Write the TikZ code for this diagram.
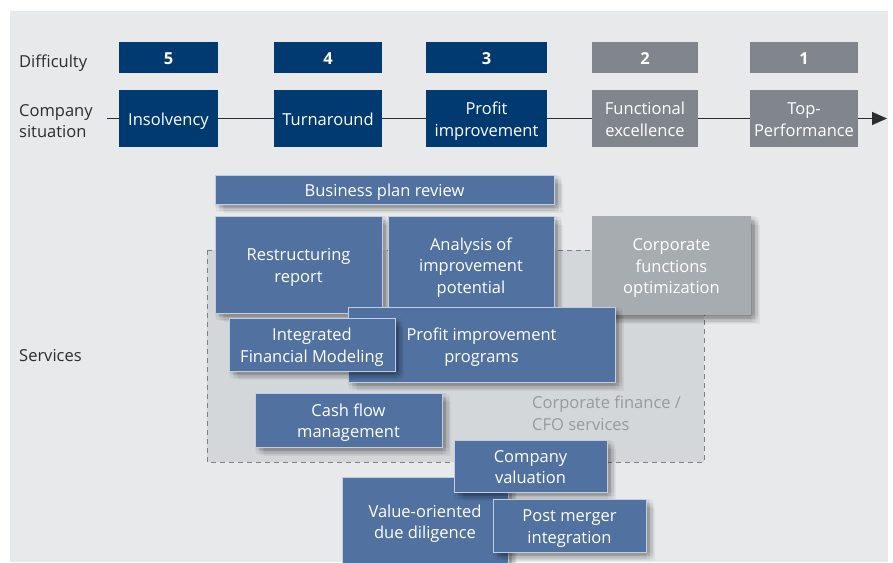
\documentclass[tikz,border=0pt]{standalone}
\usepackage{fontspec}
\setmainfont{Open Sans}
\usepackage{tikz}
\usetikzlibrary{arrows.meta}

\definecolor{bgback}{RGB}{232,233,235}
\definecolor{cfoarea}{RGB}{212,215,218}
\definecolor{darkblue}{RGB}{0,58,112}
\definecolor{darkgrey}{RGB}{128,134,139}
\definecolor{servblue}{RGB}{81,113,160}
\definecolor{servgrey}{RGB}{167,172,176}
\definecolor{labeltext}{RGB}{45,45,45}
\definecolor{cfotext}{RGB}{150,155,160}

\newcommand{\txtlines}[2][c]{\raisebox{-2.5pt}[\height][\depth]{\begin{tabular}{@{}#1@{}}#2\end{tabular}}}

\tikzset{
	shadowcopy/.style={preaction={fill=black,opacity=0.045,transform canvas={shift={(#1)}}}},
	softshadow/.style={shadowcopy={4pt,-4pt},shadowcopy={1pt,-1pt},shadowcopy={7pt,-7pt},shadowcopy={1pt,-7pt},
		shadowcopy={7pt,-1pt},shadowcopy={4pt,0pt},shadowcopy={4pt,-8pt},shadowcopy={0pt,-4pt},shadowcopy={8pt,-4pt},
		shadowcopy={9pt,-9pt},shadowcopy={3pt,-3pt},shadowcopy={5pt,-5pt}},
	boxtext/.style={font=\fontsize{16.5}{21.5}\selectfont,text=white,inner sep=0pt},
	diffbox/.style={boxtext,fill=#1,minimum height=31pt,font=\fontsize{16.5}{21.5}\selectfont\bfseries},
	sitbox/.style={boxtext,fill=#1,minimum height=57pt},
	servbox/.style={boxtext,softshadow,fill=#1,draw=white!65!#1,line width=0.8pt},
	rowlabel/.style={font=\fontsize{16.5}{21.5}\selectfont,text=labeltext,anchor=west,inner sep=0pt},
}

\begin{document}
\begin{tikzpicture}[x=1pt,y=1pt]
			
			\useasboundingbox (0,0) rectangle (893,-562);
			\fill[bgback] (10,-11) rectangle (888,-562);
			
			\node[rowlabel] (difflabel) at (19,-60.5) {\txtlines[l]{Difficulty}};
			\node[rowlabel] (sitlabel) at (19,-120) {\txtlines[l]{Company\\situation}};
			\node[rowlabel] (servlabel) at (19,-355) {\txtlines[l]{Services}};
			
			\node[diffbox=darkblue,minimum width=99pt] (d5) at (168.5,-57.5) {\txtlines{5}};
			\node[diffbox=darkblue,minimum width=108pt] (d4) at (328,-57.5) {\txtlines{4}};
			\node[diffbox=darkblue,minimum width=121pt] (d3) at (486.5,-57.5) {\txtlines{3}};
			\node[diffbox=darkgrey,minimum width=106pt] (d2) at (645,-57.5) {\txtlines{2}};
			\node[diffbox=darkgrey,minimum width=108pt] (d1) at (804,-57.5) {\txtlines{1}};
			
			\node[sitbox=darkblue,minimum width=99pt] (insolvency) at (168.5,-118.5) {\txtlines{Insolvency}};
			\node[sitbox=darkblue,minimum width=108pt] (turnaround) at (328,-118.5) {\txtlines{Turnaround}};
			\node[sitbox=darkblue,minimum width=121pt] (profit) at (486.5,-118.5) {\txtlines{Profit\\improvement}};
			\node[sitbox=darkgrey,minimum width=106pt] (functional) at (645,-118.5) {\txtlines{Functional\\excellence}};
			\node[sitbox=darkgrey,minimum width=108pt] (topperf) at (804,-118.5) {\txtlines{Top-\\Performance}};
			
			\coordinate (lineL) at (107,-118.5);
			\coordinate (lineR) at (887,-118.5);
			
			\draw[labeltext,line width=1.2pt] (lineL) -- (insolvency.west);
			\draw[labeltext,line width=1.2pt] (insolvency.east) -- (turnaround.west);
			\draw[labeltext,line width=1.2pt] (turnaround.east) -- (profit.west);
			\draw[labeltext,line width=1.2pt] (profit.east) -- (functional.west);
			\draw[labeltext,line width=1.2pt] (functional.east) -- (topperf.west);
			\draw[labeltext,line width=1.2pt,-{Triangle[length=15pt,width=13pt]}] (topperf.east) -- (lineR);
			
			\fill[cfoarea] (207,-250) rectangle (704,-462);
			\draw[gray,dash pattern=on 5pt off 4pt,line width=0.8pt] (207,-250) rectangle (704,-462);
			\node[rowlabel,text=cfotext] (cfolabel) at (532,-412.5) {\txtlines[l]{Corporate finance /\\CFO services}};
			
			\node[servbox=servblue,minimum width=339pt,minimum height=29pt] (bizplan) at (384.5,-189.5) {\txtlines{Business plan review}};
			\node[servbox=servblue,minimum width=167pt,minimum height=97pt] (restruct) at (298.5,-264.5) {\txtlines{Restructuring\\report}};
			\node[servbox=servblue,minimum width=166pt,minimum height=98pt] (analysis) at (471,-265) {\txtlines{Analysis of\\improvement\\potential}};
			\node[servbox=servgrey,draw=none,minimum width=159pt,minimum height=99pt] (corpfunc) at (671.5,-265.5) {\txtlines{Corporate\\functions\\optimization}};
			\node[servbox=servblue,minimum width=267pt,minimum height=75pt] (progs) at (481.5,-344.5) {\txtlines{Profit improvement\\programs}};
			\node[servbox=servblue,minimum width=166pt,minimum height=53pt] (finmodel) at (312,-344.5) {\txtlines{Integrated\\Financial Modeling}};
			\node[servbox=servblue,minimum width=187pt,minimum height=54pt] (cashflow) at (348.5,-420) {\txtlines{Cash flow\\management}};
			\node[servbox=servblue,minimum width=166pt,minimum height=88pt] (duedil) at (425,-521) {\txtlines{Value-oriented\\due diligence}};
			\node[servbox=servblue,minimum width=153pt,minimum height=52pt] (valuation) at (530.5,-466) {\txtlines{Company\\valuation}};
			\node[servbox=servblue,minimum width=153pt,minimum height=53pt] (merger) at (569.5,-525.5) {\txtlines{Post merger\\integration}};
			
		\end{tikzpicture}
\end{document}
